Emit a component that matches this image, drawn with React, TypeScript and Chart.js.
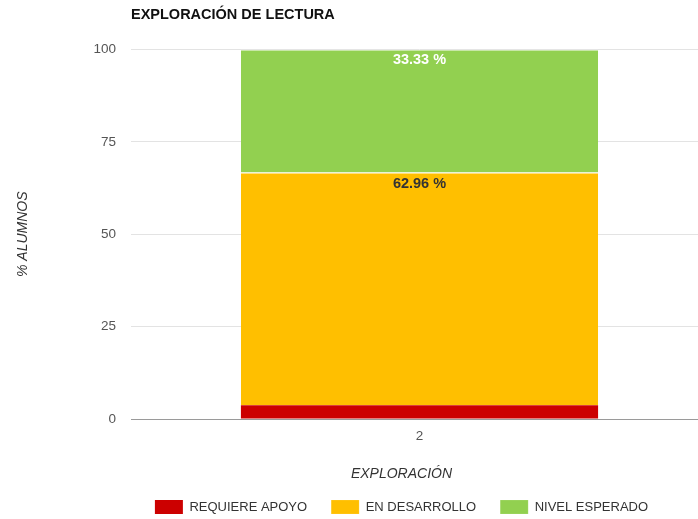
import React, { useEffect, useRef } from 'react';
import { Chart, registerables } from 'chart.js';

Chart.register(...registerables);

// ---- data ----
const categories = ['2'];
const seriesNames = ['REQUIERE APOYO', 'EN DESARROLLO', 'NIVEL ESPERADO'];
const requiereApoyo = [3.7];
const enDesarrollo = [62.96];
const nivelEsperado = [33.33];
const yTickValues = [0, 25, 50, 75, 100];
const chartTitle = 'EXPLORACIÓN DE LECTURA';
const xAxisTitle = 'EXPLORACIÓN';
const yAxisTitle = '% ALUMNOS';

// ---- styles ----
const FONT = '"Liberation Sans", Arial, Helvetica, sans-serif';
const SERIES_COLORS = ['#cc0000', '#ffbf00', '#92d050'];
const LABEL_COLORS = ['#ffffff', '#333333', '#ffffff'];
const CANVAS_W = 803;
const CANVAS_H = 524;

const segmentLabels = {
  id: 'segmentLabels',
  afterDatasetsDraw(chart: any) {
    const ctx = chart.ctx;
    chart.data.datasets.forEach((ds: any, di: number) => {
      const meta = chart.getDatasetMeta(di);
      meta.data.forEach((bar: any, i: number) => {
        const v = ds.data[i];
        const { x, y, base } = bar.getProps(['x', 'y', 'base'], true);
        if (Math.abs(base - y) < 20) return;
        ctx.save();
        ctx.font = `bold 14.5px ${FONT}`;
        ctx.fillStyle = LABEL_COLORS[di];
        ctx.textAlign = 'center';
        ctx.textBaseline = 'middle';
        ctx.fillText(v.toFixed(2) + ' %', x, Math.min(y, base) + 11);
        ctx.restore();
      });
    });
  },
};

export default function App() {
  const ref = useRef<HTMLCanvasElement | null>(null);

  useEffect(() => {
    if (!ref.current) return;
    const seriesData = [requiereApoyo, enDesarrollo, nivelEsperado];
    const chart = new Chart(ref.current, {
      type: 'bar',
      data: {
        labels: categories,
        datasets: seriesNames.map((name, i) => ({
          label: name,
          data: seriesData[i],
          backgroundColor: SERIES_COLORS[i],
          borderColor: 'rgba(255,255,255,0.55)',
          borderWidth: { top: i === 0 ? 0 : 1, left: 0, right: 0, bottom: 0 },
          borderSkipped: false,
          barPercentage: 0.619,
          categoryPercentage: 1,
          yAxisID: 'y',
        })),
      },
      options: {
        animation: false,
        responsive: false,
        devicePixelRatio: 1,
        layout: { padding: 0 },
        scales: {
          x: {
            stacked: true,
            grid: { display: false, drawTicks: false },
            border: { display: true, color: '#9a9a9a', width: 1 },
            ticks: { color: '#555', font: { family: FONT, size: 13.5 }, padding: 9 },
          },
          y: {
            stacked: true,
            min: 0,
            max: 100,
            afterBuildTicks: (s: any) => {
              s.ticks = yTickValues.map((v) => ({ value: v }));
            },
            afterFit: (s: any) => {
              s.width = 131;
            },
            grid: { color: '#e3e3e3', drawTicks: false, lineWidth: 1 },
            border: { display: false },
            ticks: { color: '#555', font: { family: FONT, size: 13.5 }, padding: 15 },
            title: {
              display: true,
              text: yAxisTitle,
              color: '#333',
              font: { family: FONT, size: 14, style: 'italic' },
              padding: { top: 15, bottom: 0 },
            },
          },
          y2: {
            type: 'linear',
            position: 'right',
            display: true,
            grid: { display: false, drawTicks: false },
            border: { display: false },
            ticks: { display: false },
            afterFit: (s: any) => {
              s.width = 95;
            },
          },
        },
        plugins: {
          title: {
            display: true,
            text: chartTitle,
            position: 'top',
            align: 'start',
            fullSize: false,
            color: '#111',
            font: { family: FONT, size: 14.5, weight: 'bold' },
            padding: { top: 6, bottom: 26 },
          },
          subtitle: {
            display: true,
            text: xAxisTitle,
            position: 'bottom',
            fullSize: true,
            weight: 500,
            color: '#333',
            font: { family: FONT, size: 14, style: 'italic' },
            padding: { top: 13, bottom: -7 },
          },
          legend: {
            display: true,
            position: 'bottom',
            align: 'center',
            labels: {
              boxWidth: 28,
              boxHeight: 14,
              padding: 24,
              color: '#333',
              font: { family: FONT, size: 13 },
            },
          },
          tooltip: { enabled: false },
        },
      },
      plugins: [segmentLabels],
    } as any);
    return () => chart.destroy();
  }, []);

  return (
    <div
      style={{
        position: 'absolute',
        left: 0,
        top: 0,
        width: 698,
        height: 519,
        overflow: 'hidden',
        background: '#fff',
      }}
    >
      <canvas
        ref={ref}
        width={CANVAS_W}
        height={CANVAS_H}
        style={{ display: 'block', width: CANVAS_W, height: CANVAS_H }}
      />
    </div>
  );
}
